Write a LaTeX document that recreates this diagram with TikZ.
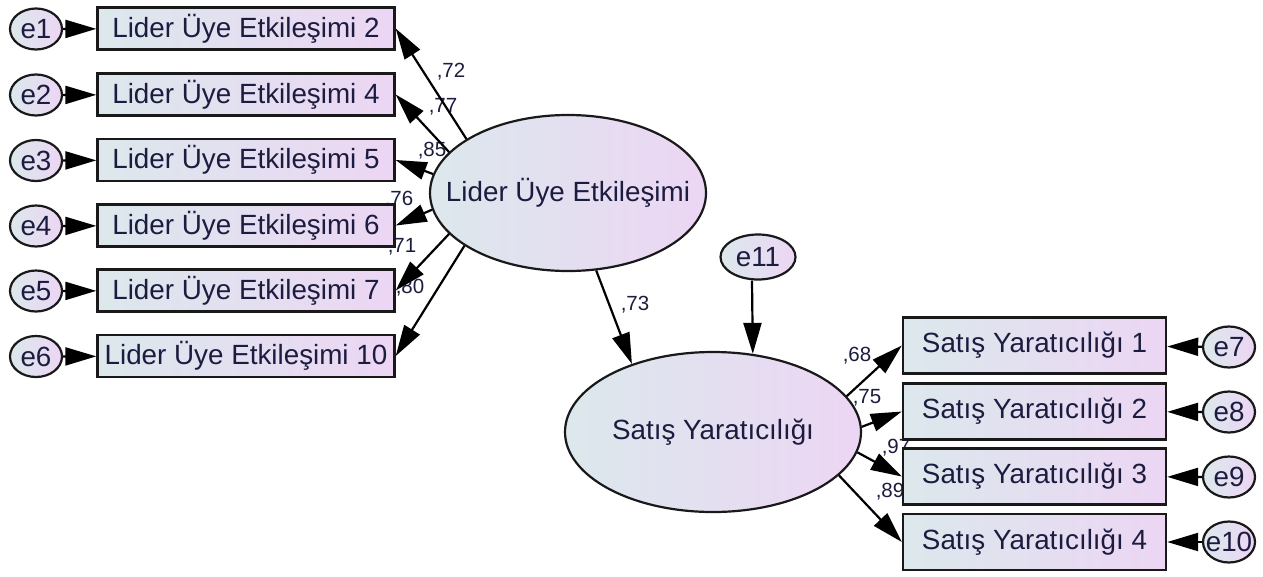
\documentclass[tikz,border=0pt]{standalone}
\usepackage{fontspec}
\setmainfont{Liberation Sans}
\usetikzlibrary{arrows.meta,shapes.geometric}
\definecolor{txt}{RGB}{28,28,64}
\definecolor{shL}{RGB}{220,232,236}
\definecolor{shR}{RGB}{236,214,244}
\definecolor{bord}{RGB}{25,25,25}
\pgfdeclarelayer{bg}
\pgfsetlayers{bg,main}
\begin{document}
\begin{tikzpicture}[x=1pt,y=-1pt,
  obs/.style={draw=bord, line width=2.4pt, rectangle, inner sep=0pt, left color=shL, right color=shR, text=txt, font=\fontsize{27.8}{32}\selectfont},
  lobs/.style={obs, minimum width=297pt, minimum height=42pt},
  robs/.style={obs, minimum width=263pt, minimum height=56pt},
  err/.style={draw=bord, line width=2.2pt, ellipse, inner sep=0pt, minimum width=52pt, minimum height=41pt, left color=shL, right color=shR, text=txt, font=\fontsize{27.8}{32}\selectfont},
  lat/.style={draw=bord, line width=2.2pt, ellipse, inner sep=0pt, left color=shL, right color=shR, text=txt, font=\fontsize{27.8}{32}\selectfont},
  pth/.style={draw=black, line width=2.2pt, -{Triangle[length=31pt,width=18pt]}},
  lbl/.style={text=txt, font=\fontsize{20.5}{24}\selectfont, inner sep=0pt, anchor=base},
]
\useasboundingbox (0,0) rectangle (1263,576);

% background and path labels (behind)
\begin{pgfonlayer}{bg}
\fill[white] (0,0) rectangle (1263,576);
\node[lbl] (l72) at (451,77.3) {,72};
\node[lbl] (l77) at (443,112.3) {,77};
\node[lbl] (l85) at (432,156.3) {,85};
\node[lbl] (l76) at (399,205.3) {,76};
\node[lbl] (l71) at (402,252.3) {,71};
\node[lbl] (l80) at (410,293.3) {,80};
\node[lbl] (l73) at (635,310.3) {,73};
\node[lbl] (l68) at (857,361.3) {,68};
\node[lbl] (l75) at (867,403.3) {,75};
\node[lbl] (l97) at (896,453.3) {,97};
\node[lbl] (l89) at (890,497.3) {,89};
\end{pgfonlayer}

% observed (left)
\node[lobs] (B1) at (246,28.5) {Lider Üye Etkileşimi 2};
\node[lobs] (B2) at (246,94.5) {Lider Üye Etkileşimi 4};
\node[lobs] (B3) at (246,160) {Lider Üye Etkileşimi 5};
\node[lobs] (B4) at (246,225.5) {Lider Üye Etkileşimi 6};
\node[lobs] (B5) at (246,290.5) {Lider Üye Etkileşimi 7};
\node[lobs] (B6) at (246,356) {Lider Üye Etkileşimi 10};

% errors (left)
\node[err] (e1) at (36,29) {\makebox[0pt]{e1}};
\node[err] (e2) at (36,95) {\makebox[0pt]{e2}};
\node[err] (e3) at (36,160.5) {\makebox[0pt]{e3}};
\node[err] (e4) at (36,226) {\makebox[0pt]{e4}};
\node[err] (e5) at (36,291) {\makebox[0pt]{e5}};
\node[err] (e6) at (36,356.5) {\makebox[0pt]{e6}};

% observed (right)
\node[robs] (S1) at (1034.5,345.5) {Satış Yaratıcılığı 1};
\node[robs] (S2) at (1034.5,411.5) {Satış Yaratıcılığı 2};
\node[robs] (S3) at (1034.5,476.5) {Satış Yaratıcılığı 3};
\node[robs] (S4) at (1034.5,542) {Satış Yaratıcılığı 4};

% errors (right)
\node[err] (e7) at (1229,347) {\makebox[0pt]{e7}};
\node[err] (e8) at (1229,412) {\makebox[0pt]{e8}};
\node[err] (e9) at (1229,477) {\makebox[0pt]{e9}};
\node[err] (e10) at (1229,542) {\makebox[0pt]{e10}};

% latents
\node[lat, minimum width=276pt, minimum height=156pt] (L1) at (568,193) {\makebox[0pt]{Lider Üye Etkileşimi}};
\node[lat, minimum width=296pt, minimum height=160pt] (L2) at (713,432) {\makebox[0pt]{Satış Yaratıcılığı}};
\node[err, minimum width=75pt, minimum height=45pt] (e11) at (758,257) {\makebox[0pt]{e11}};

% error arrows
\draw[pth] (e1) -- (B1);
\draw[pth] (e2) -- (B2);
\draw[pth] (e3) -- (B3);
\draw[pth] (e4) -- (B4);
\draw[pth] (e5) -- (B5);
\draw[pth] (e6) -- (B6);
\draw[pth] (e7) -- (S1);
\draw[pth] (e8) -- (S2);
\draw[pth] (e9) -- (S3);
\draw[pth] (e10) -- (S4);

% loadings
\draw[pth] (L1.152) -- (B1.east);
\draw[pth] (L1.161) -- (B2.east);
\draw[pth] (L1.172) -- (B3.east);
\draw[pth] (L1.187) -- (B4.east);
\draw[pth] (L1.199) -- (B5.east);
\draw[pth] (L1.207) -- (B6.east);

\draw[pth] (L2.15.5) -- (S1.west);
\draw[pth] (L2.2) -- (S2.west);
\draw[pth] (L2.352) -- (S3.west);
\draw[pth] (L2.341) -- (S4.west);

% structural
\draw[pth] (L1.290) -- (L2.140);
\draw[pth] ([xshift=-6pt]e11.south) -- (L2.63);
\end{tikzpicture}
\end{document}
